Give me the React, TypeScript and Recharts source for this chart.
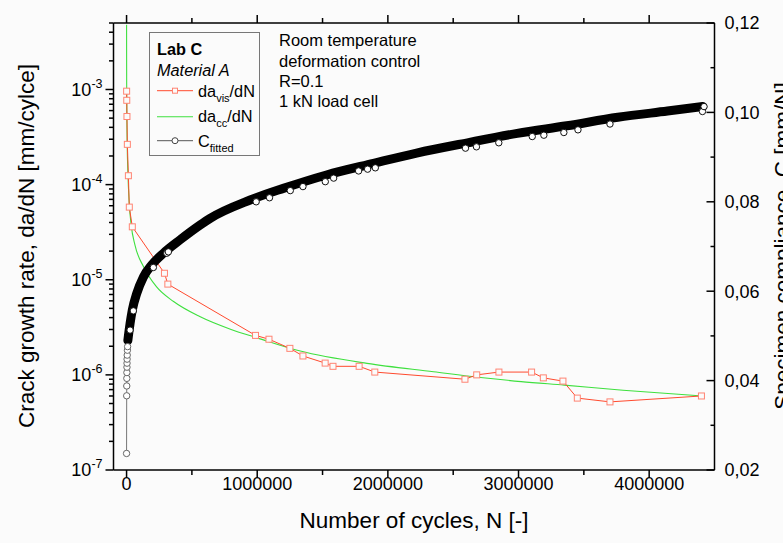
import React from 'react';
import { ComposedChart, Line, XAxis, YAxis } from 'recharts';

const FONT = '"Liberation Sans", Arial, Helvetica, sans-serif';
const BG = '#fbfbfb';
const RED_LINE = '#ff4a2e';
const RED_MARK = '#ff8473';
const GREEN = '#3fe03f';
const W = 783;
const H = 543;

// da/dN from visual crack length readings: cycles N, rate [mm/cycle]
const visCycles = [500, 1500, 3000, 6000, 14000, 21000, 44000, 290000, 316000, 987000, 1090000, 1250000, 1350000, 1520000, 1580000, 1780000, 1900000, 2590000, 2680000, 2850000, 3100000, 3190000, 3340000, 3450000, 3700000, 4400000];
const visRate = [9.6e-4, 7.7e-4, 5.2e-4, 2.65e-4, 1.24e-4, 5.8e-5, 3.6e-5, 1.17e-5, 9.0e-6, 2.6e-6, 2.37e-6, 1.9e-6, 1.58e-6, 1.33e-6, 1.23e-6, 1.23e-6, 1.07e-6, 9.0e-7, 1.0e-6, 1.07e-6, 1.07e-6, 9.3e-7, 8.6e-7, 5.7e-7, 5.2e-7, 6.0e-7];

// da/dN derived from the compliance curve
const ccCycles = [150, 400, 1000, 2500, 5000, 10000, 20000, 35000, 65000, 130000, 230000, 360000, 560000, 800000, 1000000, 1330000, 1840000, 2350000, 2710000, 3020000, 3350000, 3800000, 4410000];
const ccRate = [4.8e-3, 2.2e-3, 1.0e-3, 4.6e-4, 2.5e-4, 1.35e-4, 6.5e-5, 3.8e-5, 2.3e-5, 1.37e-5, 8.4e-6, 5.9e-6, 4.1e-6, 3.0e-6, 2.45e-6, 1.78e-6, 1.32e-6, 1.08e-6, 9.4e-7, 8.5e-7, 7.8e-7, 6.9e-7, 6.0e-7];

// fitted compliance, dense record [mm/N]
const cBandCycles = [10000, 14000, 27000, 44000, 78000, 129000, 193000, 282000, 410000, 563000, 640000, 946000, 1200000, 1530000, 1890000, 2220000, 2610000, 2990000, 3370000, 3760000, 4140000, 4410000];
const cBandValue = [0.0490, 0.0500, 0.0528, 0.0558, 0.0595, 0.0632, 0.0659, 0.0685, 0.0715, 0.0748, 0.0763, 0.0804, 0.0830, 0.0860, 0.0886, 0.0909, 0.0932, 0.0953, 0.0970, 0.0989, 0.1003, 0.1013];

// first compliance points right after the start
const cStartCycles = [0, 1000, 1500, 2000, 2500, 3000, 3500, 4000, 5000, 6500, 8000];
const cStartValue = [0.0237, 0.0366, 0.0388, 0.0405, 0.0418, 0.0430, 0.0439, 0.0448, 0.0457, 0.0468, 0.0476];

// compliance points standing out of the dense record
const cMarkCycles = [27000, 52000, 205000, 308000, 320000, 992000, 1094000, 1253000, 1350000, 1521000, 1585000, 1776000, 1845000, 1904000, 2594000, 2678000, 2849000, 3105000, 3194000, 3347000, 3455000, 3700000, 4408000, 4420000];
const cMarkValue = [0.0513, 0.0556, 0.0653, 0.0685, 0.0688, 0.0800, 0.0809, 0.0825, 0.0834, 0.0845, 0.0853, 0.0869, 0.0873, 0.0876, 0.0920, 0.0923, 0.0932, 0.0946, 0.0949, 0.0955, 0.0961, 0.0974, 0.1002, 0.1013];

// axes
const xRange = [-100000, 4500000];
const xMajorTicks = [0, 1000000, 2000000, 3000000, 4000000];
const xMajorLabels = ['0', '1000000', '2000000', '3000000', '4000000'];
const xMinorTicks = [500000, 1500000, 2500000, 3500000];

const rateRange = [1e-7, 5e-3];
const rateMajorTicks = [1e-7, 1e-6, 1e-5, 1e-4, 1e-3];
const rateMajorExponents = ['-7', '-6', '-5', '-4', '-3'];
const rateMinorTicks: number[] = [];
for (const m of rateMajorTicks) {
  for (let k = 2; k <= 9; k++) {
    if (m * k <= rateRange[1] * 1.000001) rateMinorTicks.push(m * k);
  }
}

const cRange = [0.02, 0.12];
const cMajorTicks = [0.02, 0.04, 0.06, 0.08, 0.10, 0.12];
const cMajorLabels = ['0,02', '0,04', '0,06', '0,08', '0,10', '0,12'];
const cMinorTicks = [0.03, 0.05, 0.07, 0.09, 0.11];

const axisStyle = { stroke: '#000', strokeWidth: 1.5 };

const BottomTick = (p: any) => {
  const i = xMajorTicks.indexOf(p.payload.value);
  return (
    <g>
      <line x1={p.x} x2={p.x} y1={p.y} y2={p.y + (i >= 0 ? 8 : 5)} stroke="#000" strokeWidth={1.5} />
      {i >= 0 && (
        <text x={p.x} y={p.y + 20} textAnchor="middle" fontSize={18} fontFamily={FONT} fill="#000">
          {xMajorLabels[i]}
        </text>
      )}
    </g>
  );
};

const TopTick = (p: any) => {
  const major = xMajorTicks.indexOf(p.payload.value) >= 0;
  return <line x1={p.x} x2={p.x} y1={p.y} y2={p.y - (major ? 8 : 5)} stroke="#000" strokeWidth={1.5} />;
};

const LeftTick = (p: any) => {
  const v = p.payload.value;
  const i = rateMajorTicks.findIndex((t) => Math.abs(t - v) / t < 1e-6);
  return (
    <g>
      <line x1={p.x} x2={p.x - (i >= 0 ? 8 : 4.5)} y1={p.y} y2={p.y} stroke="#000" strokeWidth={1.5} />
      {i >= 0 && (
        <text x={p.x - 11} y={p.y + 6.4} textAnchor="end" fontSize={18} fontFamily={FONT} fill="#000">
          10
          <tspan dy={-8} fontSize={12.5}>{rateMajorExponents[i]}</tspan>
        </text>
      )}
    </g>
  );
};

const RightTick = (p: any) => {
  const v = p.payload.value;
  const i = cMajorTicks.findIndex((t) => Math.abs(t - v) < 1e-9);
  return (
    <g>
      <line x1={p.x} x2={p.x - (i >= 0 ? 8 : 4)} y1={p.y} y2={p.y} stroke="#000" strokeWidth={1.5} />
      {i >= 0 && (
        <text x={p.x + 10} y={p.y + 6.4} textAnchor="start" fontSize={18} fontFamily={FONT} fill="#000">
          {cMajorLabels[i]}
        </text>
      )}
    </g>
  );
};

const squareDot = (p: any) => (
  <rect key={`s${p.index}`} x={p.cx - 3} y={p.cy - 3} width={6} height={6} fill={BG} stroke={RED_MARK} strokeWidth={1} />
);

const circleDot = (stroke: string) => (p: any) => (
  <circle key={`c${p.index}`} cx={p.cx} cy={p.cy} r={3.2} fill="#fff" stroke={stroke} strokeWidth={1} />
);

export default function App() {
  const visData = visCycles.map((n, i) => ({ n, v: visRate[i] }));
  const ccData = ccCycles.map((n, i) => ({ n, v: ccRate[i] }));
  const bandData = cBandCycles.map((n, i) => ({ n, c: cBandValue[i] }));
  const startData = cStartCycles.map((n, i) => ({ n, c: cStartValue[i] }));
  const markData = cMarkCycles.map((n, i) => ({ n, c: cMarkValue[i] }));

  const txt = { fontFamily: FONT, fill: '#000' } as const;

  return (
    <div style={{ position: 'absolute', left: 0, top: 0, width: W, height: H, background: BG, overflow: 'hidden' }}>
      <ComposedChart width={W} height={H} margin={{ top: 13, right: 8.5, bottom: 23, left: 53.5 }}>
        <XAxis
          xAxisId="bottom"
          dataKey="n"
          type="number"
          domain={xRange}
          allowDataOverflow
          ticks={[...xMajorTicks, ...xMinorTicks]}
          interval={0}
          tick={(p: any) => <BottomTick {...p} />}
          tickLine={false}
          tickSize={0}
          tickMargin={0}
          height={50}
          axisLine={axisStyle}
        />
        <XAxis
          xAxisId="top"
          orientation="top"
          dataKey="n"
          type="number"
          domain={xRange}
          allowDataOverflow
          ticks={[...xMajorTicks, ...xMinorTicks]}
          interval={0}
          tick={(p: any) => <TopTick {...p} />}
          tickLine={false}
          tickSize={0}
          tickMargin={0}
          height={10}
          axisLine={axisStyle}
        />
        <YAxis
          yAxisId="rate"
          scale="log"
          type="number"
          domain={rateRange}
          allowDataOverflow
          ticks={[...rateMajorTicks, ...rateMinorTicks]}
          interval={0}
          tick={(p: any) => <LeftTick {...p} />}
          tickLine={false}
          tickSize={0}
          tickMargin={0}
          width={60}
          axisLine={axisStyle}
        />
        <YAxis
          yAxisId="c"
          orientation="right"
          type="number"
          domain={cRange}
          allowDataOverflow
          ticks={[...cMajorTicks, ...cMinorTicks]}
          interval={0}
          tick={(p: any) => <RightTick {...p} />}
          tickLine={false}
          tickSize={0}
          tickMargin={0}
          width={60}
          axisLine={axisStyle}
        />
        <Line xAxisId="bottom" yAxisId="rate" data={ccData} dataKey="v" type="monotone" stroke={GREEN} strokeWidth={1.1} dot={false} isAnimationActive={false} />
        <Line xAxisId="bottom" yAxisId="rate" data={visData} dataKey="v" type="linear" stroke={RED_LINE} strokeWidth={1} dot={squareDot} isAnimationActive={false} />
        <Line xAxisId="bottom" yAxisId="c" data={bandData} dataKey="c" type="monotone" stroke="#000" strokeWidth={9} strokeLinecap="round" strokeLinejoin="round" dot={false} isAnimationActive={false} />
        <Line xAxisId="bottom" yAxisId="c" data={startData} dataKey="c" type="linear" stroke="#777" strokeWidth={1} dot={circleDot('#666')} isAnimationActive={false} />
        <Line xAxisId="bottom" yAxisId="c" data={markData} dataKey="c" type="linear" stroke="none" dot={circleDot('#111')} isAnimationActive={false} />
      </ComposedChart>

      <svg width={W} height={H} style={{ position: 'absolute', left: 0, top: 0, pointerEvents: 'none' }}>
        {/* axis titles */}
        <text x={414} y={528} textAnchor="middle" fontSize={22.5} {...txt}>Number of cycles, N [-]</text>
        <text x={34} y={246} transform="rotate(-90 34 246)" textAnchor="middle" fontSize={22.5} {...txt}>
          Crack growth rate, da/dN [mm/cylce]
        </text>
        <text x={790} y={246} transform="rotate(-90 790 246)" textAnchor="middle" fontSize={22.5} {...txt}>
          Specimen compliance, C [mm/N]
        </text>

        {/* legend */}
        <rect x={149.5} y={32.5} width={110} height={123} fill={BG} stroke="#777" strokeWidth={1} />
        <text x={157} y={55} fontSize={16.3} fontWeight="bold" {...txt}>Lab C</text>
        <text x={157} y={75.5} fontSize={16.3} fontStyle="italic" {...txt}>Material A</text>

        <line x1={157} x2={193} y1={90.7} y2={90.7} stroke={RED_LINE} strokeWidth={1} />
        <rect x={172.5} y={88.2} width={5} height={5} fill={BG} stroke={RED_MARK} strokeWidth={1} />
        <text x={198} y={96.5} fontSize={16.3} {...txt}>
          da<tspan dy={5} fontSize={11}>vis</tspan><tspan dy={-5}>/dN</tspan>
        </text>

        <line x1={157} x2={193} y1={116.7} y2={116.7} stroke={GREEN} strokeWidth={1.1} />
        <text x={198} y={122} fontSize={16.3} {...txt}>
          da<tspan dy={5} fontSize={11}>cc</tspan><tspan dy={-5}>/dN</tspan>
        </text>

        <line x1={157} x2={193} y1={140.7} y2={140.7} stroke="#555" strokeWidth={1} />
        <circle cx={175} cy={140.7} r={3} fill="#fff" stroke="#444" strokeWidth={1} />
        <text x={198} y={146.7} fontSize={16.3} {...txt}>
          C<tspan dy={5} fontSize={11}>fitted</tspan>
        </text>

        {/* test conditions */}
        <text x={279} y={46.3} fontSize={16.5} {...txt}>Room temperature</text>
        <text x={279} y={66.7} fontSize={16.5} {...txt}>deformation control</text>
        <text x={279} y={87} fontSize={16.5} {...txt}>R=0.1</text>
        <text x={279} y={107.4} fontSize={16.5} {...txt}>1 kN load cell</text>
      </svg>
    </div>
  );
}
